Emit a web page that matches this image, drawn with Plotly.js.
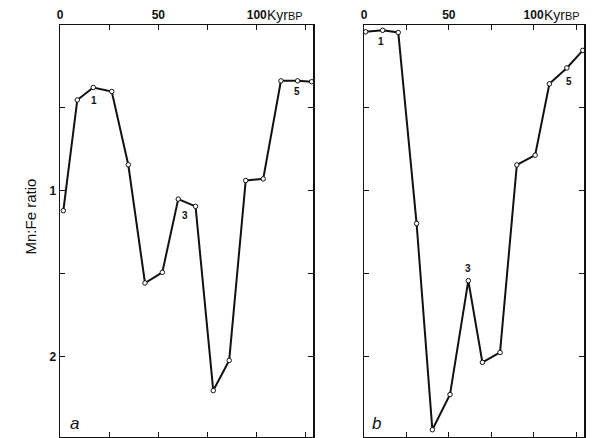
<!DOCTYPE html>
<html><head><meta charset="utf-8">
<script src="https://cdn.plot.ly/plotly-3.0.1.min.js"></script>
<style>html,body{margin:0;padding:0;background:#fff}</style>
</head><body><div id="chart" style="width:597px;height:438px"></div>
<script>
// Panel a data (age in Kyr BP, Mn:Fe ratio)
const ageA = [1.7, 8.8, 16.9, 26.3, 34.7, 43.2, 52.0, 60.1, 68.9, 77.9, 86.0, 94.4, 103.3, 112.3, 120.8, 127.9];
const ratioA = [1.12, 0.452, 0.377, 0.401, 0.843, 1.556, 1.492, 1.05, 1.094, 2.205, 2.023, 0.938, 0.928, 0.337, 0.337, 0.342];
// Panel b data
const ageB = [1.0, 11.0, 20.2, 31.0, 40.3, 50.7, 61.5, 69.8, 80.2, 90.1, 100.9, 109.3, 119.6, 129.0];
const ratioB = [0.041, 0.032, 0.045, 1.197, 2.441, 2.229, 1.542, 2.035, 1.975, 0.844, 0.785, 0.355, 0.259, 0.153];
// Stage labels: [point index, text]
const stagesA = [[2, '1'], [7, '3'], [14, '5']];
const stagesB = [[1, '1'], [6, '3'], [12, '5']];
const xTickVals = [0, 25, 50, 75, 100, 125];
const xTickText = ['0', '', '50', '', '100', ''];
const yTickVals = [0.5, 1, 1.5, 2];
const yTickText = ['', '1', '', '2'];

const line = {color: '#111', width: 2};
const marker = {symbol: 'circle', size: 4.5, color: '#fff', line: {color: '#111', width: 1}};
const traces = [
  {x: ageA, y: ratioA, xaxis: 'x', yaxis: 'y', mode: 'lines+markers', line, marker, hoverinfo: 'none'},
  {x: ageB, y: ratioB, xaxis: 'x2', yaxis: 'y2', mode: 'lines+markers', line, marker, hoverinfo: 'none'}
];
const W = 597;
const tickFont = {family: 'Liberation Sans, Arial, sans-serif', size: 12, color: '#111', weight: 'bold'};
function xax(domain, range) {
  return {domain, range, side: 'top', showline: true, linecolor: '#111', linewidth: 1.5, mirror: 'ticks',
    ticks: 'inside', ticklen: 5, tickwidth: 1, tickcolor: '#111', tickvals: xTickVals, ticktext: xTickText,
    tickfont: tickFont, showgrid: false, zeroline: false, fixedrange: true};
}
function yax(anchor, labels) {
  return {anchor, range: [2.485, 0], showline: true, linecolor: '#111', linewidth: 1.5, mirror: 'ticks',
    ticks: 'inside', ticklen: 5, tickwidth: 1, tickcolor: '#111', tickvals: yTickVals,
    ticktext: labels ? yTickText : ['', '', '', ''], tickfont: tickFont, showgrid: false, zeroline: false, fixedrange: true};
}
const stageFont = {family: 'Liberation Sans, Arial, sans-serif', size: 10, color: '#111', weight: 'bold'};
const shiftsA = [[1, -13], [7, -16], [-1, -11]];
const shiftsB = [[-2, -11], [0, 12], [2, -14]];
const annotations = [];
stagesA.forEach(([i, t], k) => annotations.push({x: ageA[i], y: ratioA[i], xref: 'x', yref: 'y', text: t, showarrow: false,
  xshift: shiftsA[k][0], yshift: shiftsA[k][1], font: stageFont}));
stagesB.forEach(([i, t], k) => annotations.push({x: ageB[i], y: ratioB[i], xref: 'x2', yref: 'y2', text: t, showarrow: false,
  xshift: shiftsB[k][0], yshift: shiftsB[k][1], font: stageFont}));
const unitFont = {family: 'Liberation Sans, Arial, sans-serif', size: 14, color: '#111'};
annotations.push({x: 100, y: 1, xref: 'x', yref: 'paper', text: 'Kyr<span style="font-size:11px">BP</span>', showarrow: false,
  xanchor: 'left', yanchor: 'bottom', xshift: 9, yshift: 1, borderpad: 0, font: unitFont});
annotations.push({x: 100, y: 1, xref: 'x2', yref: 'paper', text: 'Kyr<span style="font-size:11px">BP</span>', showarrow: false,
  xanchor: 'left', yanchor: 'bottom', xshift: 9, yshift: 1, borderpad: 0, font: unitFont});
annotations.push({x: 0, y: 0, xref: 'x', yref: 'paper', text: '<i>a</i>', showarrow: false, xanchor: 'left', yanchor: 'bottom',
  xshift: 8, yshift: 2, font: {family: 'Liberation Sans, Arial, sans-serif', size: 17, color: '#111'}});
annotations.push({x: 0, y: 0, xref: 'x2', yref: 'paper', text: '<i>b</i>', showarrow: false, xanchor: 'left', yanchor: 'bottom',
  xshift: 6, yshift: 2, font: {family: 'Liberation Sans, Arial, sans-serif', size: 17, color: '#111'}});
annotations.push({x: 20 / W, y: 0.534, xref: 'paper', yref: 'paper', text: 'Mn:Fe ratio', textangle: -90, showarrow: false,
  font: {family: 'Liberation Sans, Arial, sans-serif', size: 15, color: '#111'}});

const layout = {
  width: 597, height: 438, margin: {l: 0, r: 0, t: 25, b: 1},
  paper_bgcolor: '#fff', plot_bgcolor: '#fff', showlegend: false,
  xaxis: xax([60 / W, 313 / W], [0, 128.6]),
  xaxis2: xax([364 / W, 584 / W], [0, 129.7]),
  yaxis: yax('x', true),
  yaxis2: yax('x2', false),
  annotations
};
layout.xaxis.anchor = 'y';
layout.xaxis2.anchor = 'y2';
Plotly.newPlot('chart', traces, layout, {displayModeBar: false, staticPlot: true});
</script></body></html>
